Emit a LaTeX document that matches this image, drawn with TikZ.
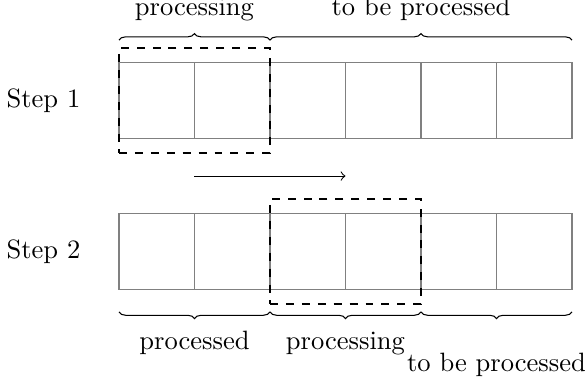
\documentclass[tikz,border=0pt]{standalone}
\usetikzlibrary{decorations.pathreplacing}
\begin{document}
\begin{tikzpicture}
\tikzset{
  cell/.style={draw=gray, minimum size=1cm, inner sep=0pt, outer sep=0pt},
  procbox/.style={draw=black, thick, dashed, minimum width=2cm, minimum height=1.4cm, inner sep=0pt, outer sep=0pt},
  bracepath/.style={decorate, decoration={brace}},
  lbl/.style={anchor=base, inner sep=0pt},
  steplbl/.style={inner sep=0pt}
}
\useasboundingbox (-1.576,-3.241) rectangle (6.199,1.832);
% Step 1 row
\foreach \i in {0,...,5} {
  \node[cell] (t\i) at (\i+0.5,0.5) {};
}
% Step 2 row
\foreach \i in {0,...,5} {
  \node[cell] (b\i) at (\i+0.5,-1.5) {};
}
\node[steplbl] (s1) at (-1,0.5) {Step 1};
\node[steplbl] (s2) at (-1,-1.5) {Step 2};
% dashed processing boxes
\node[procbox] (p1) at (1,0.5) {};
\node[procbox] (p2) at (3,-1.5) {};
% arrow
\coordinate (a1) at (1,-0.5);
\coordinate (a2) at (3,-0.5);
\draw[->] (a1) -- (a2);
% top braces
\coordinate (tb0) at (0,1.3);
\coordinate (tb2) at (2,1.3);
\coordinate (tb6) at (6,1.3);
\draw[bracepath] (tb0) -- (tb2);
\draw[bracepath] (tb2) -- (tb6);
\node[lbl] (l1) at (1,1.633) {processing};
\node[lbl] (l2) at (4,1.633) {to be processed};
% bottom braces
\coordinate (bb0) at (0,-2.3);
\coordinate (bb2) at (2,-2.3);
\coordinate (bb4) at (4,-2.3);
\coordinate (bb6) at (6,-2.3);
\draw[bracepath] (bb2) -- (bb0);
\draw[bracepath] (bb4) -- (bb2);
\draw[bracepath] (bb6) -- (bb4);
\node[lbl] (l3) at (1,-2.80) {processed};
\node[lbl] (l4) at (3,-2.80) {processing};
\node[lbl] (l5) at (5,-3.09) {to be processed};
\end{tikzpicture}
\end{document}
